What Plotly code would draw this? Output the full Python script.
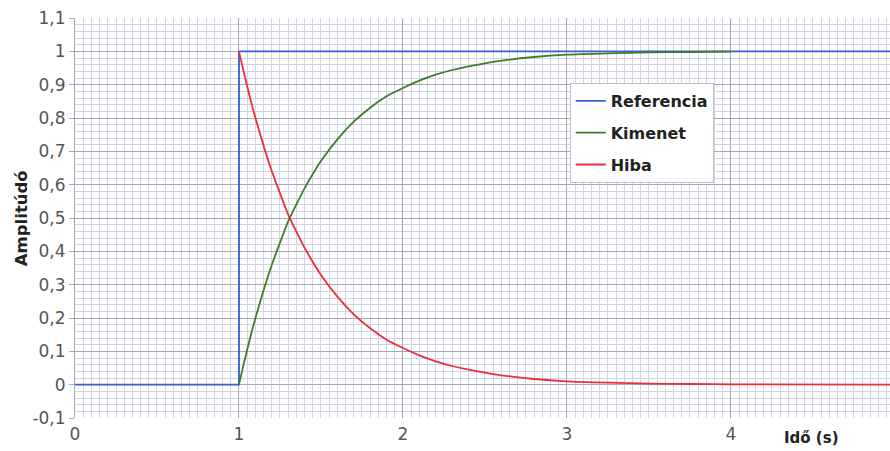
import plotly.graph_objects as go

# Data
ref_t = [0, 1, 1, 4.97]
ref_y = [0, 0, 1, 1]

out_t = [1.0, 1.025, 1.05, 1.075, 1.1, 1.15, 1.2, 1.25, 1.3, 1.35, 1.4, 1.45, 1.5, 1.6, 1.7, 1.8,
         1.9, 2.0, 2.1, 2.2, 2.3, 2.4, 2.5, 2.6, 2.8, 3.0, 3.25, 3.5, 3.75, 4.0]
out_y = [0, 0.054, 0.105, 0.154, 0.199, 0.283, 0.359, 0.426, 0.490, 0.541, 0.589, 0.632,
         0.671, 0.736, 0.789, 0.831, 0.865, 0.890, 0.912, 0.930, 0.944, 0.955, 0.964, 0.972,
         0.983, 0.990, 0.994, 0.997, 0.998, 0.999]

err_t = [1.0, 1.025, 1.05, 1.075, 1.1, 1.15, 1.2, 1.25, 1.3, 1.35, 1.4, 1.45, 1.5, 1.6, 1.7, 1.8,
         1.9, 2.0, 2.1, 2.2, 2.3, 2.4, 2.5, 2.6, 2.8, 3.0, 3.25, 3.5, 3.75, 4.0, 4.97]
err_y = [1.0, 0.946, 0.895, 0.846, 0.801, 0.717, 0.641, 0.574, 0.510, 0.459, 0.411, 0.368,
         0.329, 0.264, 0.211, 0.169, 0.135, 0.110, 0.088, 0.070, 0.056, 0.045, 0.036, 0.028,
         0.017, 0.010, 0.006, 0.003, 0.002, 0.001, 0.0]

x_ticks = [0, 1, 2, 3, 4]
y_ticks = [-0.1, 0, 0.1, 0.2, 0.3, 0.4, 0.5, 0.6, 0.7, 0.8, 0.9, 1.0, 1.1]
y_labels = ["-0,1", "0", "0,1", "0,2", "0,3", "0,4", "0,5", "0,6", "0,7", "0,8", "0,9", "1", "1,1"]

FONT = "DejaVu Sans"

fig = go.Figure()
fig.add_trace(go.Scatter(x=ref_t, y=ref_y, mode="lines", name="Referencia",
                         legendgroup="a", line=dict(color="#3a5fd0", width=1.8)))
fig.add_trace(go.Scatter(x=out_t, y=out_y, mode="lines", name="Kimenet",
                         legendgroup="b", line=dict(color="#3d7d2c", width=1.8, shape="spline", smoothing=0.6)))
fig.add_trace(go.Scatter(x=err_t, y=err_y, mode="lines", name="Hiba",
                         legendgroup="c", line=dict(color="#e8303a", width=1.8, shape="spline", smoothing=0.6)))

fig.update_layout(
    width=890, height=451,
    margin=dict(l=75, r=0, t=18, b=33),
    paper_bgcolor="white", plot_bgcolor="white",
    font=dict(family=FONT, color="#555555"),
    showlegend=True,
    legend=dict(x=0.607, y=0.8375, xanchor="left", yanchor="top",
                bgcolor="white", bordercolor="#c0c0c8", borderwidth=1,
                font=dict(family="DejaVu Sans", size=16, color="#222222", weight="bold"),
                tracegroupgap=8, itemwidth=30),
    xaxis=dict(range=[0, 4.97], tickvals=x_ticks, ticktext=[str(v) for v in x_ticks],
               showgrid=True, gridcolor="#a8a8b4", gridwidth=1,
               minor=dict(dtick=0.05, tick0=0, showgrid=True, gridcolor="#d0d4e6", gridwidth=1),
               zeroline=False, showline=False,
               tickfont=dict(size=17, color="#555555"), ticks="", ticklabelstandoff=4),
    yaxis=dict(range=[-0.1, 1.1], tickvals=y_ticks, ticktext=y_labels,
               showgrid=True, gridcolor="#a8a8b4", gridwidth=1,
               minor=dict(dtick=0.02, tick0=0, showgrid=True, gridcolor="#d0d4e6", gridwidth=1),
               zeroline=False, showline=True, linecolor="#a8a8b4", linewidth=1,
               ticks="outside", ticklen=5, tickcolor="#a8a8b4",
               tickfont=dict(size=17, color="#555555")),
    annotations=[
        dict(text="<b>Amplitúdó</b>", xref="paper", yref="paper", x=-0.066, y=0.5,
             textangle=-90, showarrow=False, xanchor="center", yanchor="middle",
             font=dict(family=FONT, size=16.5, color="#222222")),
        dict(text="<b>Idő (s)</b>", xref="paper", yref="paper", x=0.904, y=-0.05,
             showarrow=False, xanchor="center", yanchor="middle",
             font=dict(family=FONT, size=15, color="#222222")),
    ],
)

fig.write_html("out.html")
